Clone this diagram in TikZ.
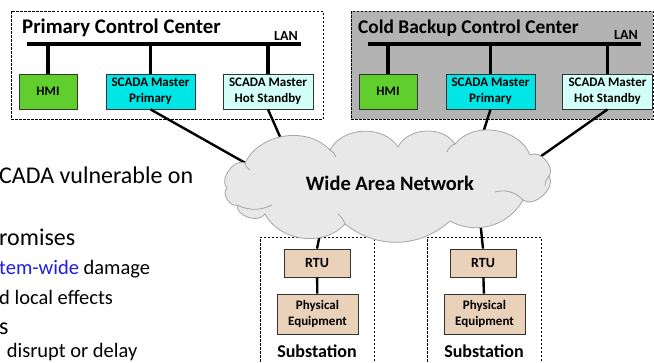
\documentclass[tikz,border=0pt]{standalone}
\usepackage{fontspec}
\setmainfont{Carlito}
\definecolor{hmigreen}{RGB}{96,206,44}
\definecolor{scadacyan}{RGB}{0,230,230}
\definecolor{standbycyan}{RGB}{210,255,248}
\definecolor{coldgray}{RGB}{179,179,179}
\definecolor{rtutan}{RGB}{234,209,186}
\definecolor{cloudfill}{RGB}{232,232,232}
\definecolor{cloudedge}{RGB}{165,165,165}
\definecolor{textblue}{RGB}{30,30,230}
\begin{document}
\begin{tikzpicture}[x=1pt,y=-1pt,
  area/.style={draw=black, line width=0.8pt, dash pattern=on 2.5pt off 1.5pt, inner sep=0pt},
  dev/.style={draw=black!80, line width=0.8pt, inner sep=0pt, align=center,
    font=\fontsize{13}{15.5}\selectfont\bfseries},
  bus/.style={line width=3.5pt},
  link/.style={line width=2.4pt},
  cloudline/.style={draw=cloudedge, line width=0.8pt},
  title/.style={anchor=base west, inner sep=0pt},
  lan/.style={anchor=base east, inner sep=0pt, font=\fontsize{14}{16}\selectfont\bfseries},
  bigtxt/.style={anchor=base west, inner sep=0pt, font=\fontsize{24}{28}\selectfont},
  smalltxt/.style={anchor=base west, inner sep=0pt, font=\fontsize{20.5}{24}\selectfont}]
\useasboundingbox (0,0) rectangle (654,362);
\clip (0,0) rectangle (654,362);
\fill[white] (0,0) rectangle (654,362);

% left slide text (cut off)
\node[bigtxt] (t1) at (-1,183) {CADA vulnerable on};
\node[bigtxt] (t2) at (-1,245) {romises};
\node[smalltxt] (t3) at (-1,274) {\textcolor{textblue}{tem-wide} damage};
\node[smalltxt] (t4) at (-1,304) {d local effects};
\node[bigtxt] (t5) at (-1,334) {s};
\node[smalltxt] (t6) at (2,357.5) {\ disrupt or delay};

% control center areas
\node[area, minimum width=312, minimum height=108] (pcc) at (167,65) {};
\node[area, fill=coldgray, minimum width=302, minimum height=108] (cbc) at (502,65) {};
\node[title, font=\fontsize{20.8}{24}\selectfont\bfseries] (pcct) at (22,33) {Primary Control Center};
\node[title, font=\fontsize{19.4}{24}\selectfont\bfseries] (cbct) at (358,33) {Cold Backup Control Center};
\node[lan] (lan1) at (298,40) {LAN};
\node[lan] (lan2) at (638,39) {LAN};

% devices
\node[dev, fill=hmigreen, minimum width=58, minimum height=35] (hmi1) at (48,91.5) {HMI};
\node[dev, fill=scadacyan, minimum width=89, minimum height=35] (scp1) at (150.5,91.5) {SCADA Master\\Primary};
\node[dev, fill=standbycyan, minimum width=90, minimum height=35] (shs1) at (268,91.5) {SCADA Master\\Hot Standby};
\node[dev, fill=hmigreen, minimum width=58, minimum height=35] (hmi2) at (388,91.5) {HMI};
\node[dev, fill=scadacyan, minimum width=89, minimum height=35] (scp2) at (490.5,91.5) {SCADA Master\\Primary};
\node[dev, fill=standbycyan, minimum width=90, minimum height=35] (shs2) at (607.5,91.5) {SCADA Master\\Hot Standby};

% LAN buses
\coordinate (b1l) at (27,44);
\coordinate (b1r) at (301,44);
\coordinate (b2l) at (368,44);
\coordinate (b2r) at (641,44);
\draw[bus] (b1l) -- (b1r);
\draw[bus] (b2l) -- (b2r);
\draw[bus] (hmi1.north |- b1l) -- (hmi1.north);
\draw[bus] (scp1.north |- b1l) -- (scp1.north);
\draw[bus] (shs1.north |- b1l) -- (shs1.north);
\draw[bus] (hmi2.north |- b2l) -- (hmi2.north);
\draw[bus] (scp2.north |- b2l) -- (scp2.north);
\draw[bus] (shs2.north |- b2l) -- (shs2.north);

% substations
\node[area, minimum width=114, minimum height=150, anchor=north west] (sub1) at (260,237) {};
\node[area, minimum width=114, minimum height=150, anchor=north west] (sub2) at (427,237) {};
\node[dev, fill=rtutan, minimum width=66, minimum height=28, font=\fontsize{14}{16}\selectfont\bfseries] (rtu1) at (317,263) {RTU};
\node[dev, fill=rtutan, minimum width=81, minimum height=40] (pe1) at (317.5,314) {Physical\\Equipment};
\node[dev, fill=rtutan, minimum width=66, minimum height=28, font=\fontsize{14}{16}\selectfont\bfseries] (rtu2) at (483,263) {RTU};
\node[dev, fill=rtutan, minimum width=81, minimum height=40] (pe2) at (484.5,314) {Physical\\Equipment};
\node[anchor=base, inner sep=0pt, font=\fontsize{18}{20}\selectfont\bfseries] (sl1) at (317,357) {Substation};
\node[anchor=base, inner sep=0pt, font=\fontsize{18}{20}\selectfont\bfseries] (sl2) at (484,357) {Substation};
\draw[link] (rtu1) -- (pe1);
\draw[link] (rtu2) -- (pe2);

% WAN links (ends hidden under cloud)
\coordinate (w1) at (272,178);
\coordinate (w2) at (292,164);
\coordinate (w3) at (476,155);
\coordinate (w4) at (520,171);
\coordinate (w5) at (327,200);
\coordinate (w6) at (478,200);
\draw[link] (scp1.south) -- (w1);
\draw[link] (shs1.south) -- (w2);
\draw[link] (scp2.south) -- (w3);
\draw[link] (shs2.south) -- (w4);
\draw[link] (w5) -- (rtu1.north);
\draw[link] (w6) -- (rtu2.north);

% cloud outline
\path[cloudline, fill=cloudfill]
  (227,188) to[bend left=80] (245,163)
  to[bend left=55] (330,150)
  to[bend left=60] (398,147)
  to[bend left=60] (455,144)
  to[bend left=60] (530,155)
  to[bend left=80] (549,176)
  to[bend left=80] (523,200)
  to[bend left=45] (450,221)
  to[bend left=40] (345,224)
  to[bend left=55] (265,214)
  to[bend left=75] (237,205)
  to[bend left=80] cycle;
% inner cloud arcs
\draw[cloudline] (245,163) to[bend right=25] (250,170);
\draw[cloudline] (237,205) to[bend right=25] (272,205);
\draw[cloudline] (330,150) to[bend left=20] (336,157);
\draw[cloudline] (455,144) to[bend right=25] (447,152);
\draw[cloudline] (549,176) to[bend right=20] (545,186);
\draw[cloudline] (523,200) to[bend right=30] (495,192);
\draw[cloudline] (345,224) to[bend right=15] (338,214);
\node[inner sep=0pt, font=\fontsize{20.5}{24}\selectfont\bfseries] (wan) at (390,183) {Wide Area Network};
\end{tikzpicture}
\end{document}
